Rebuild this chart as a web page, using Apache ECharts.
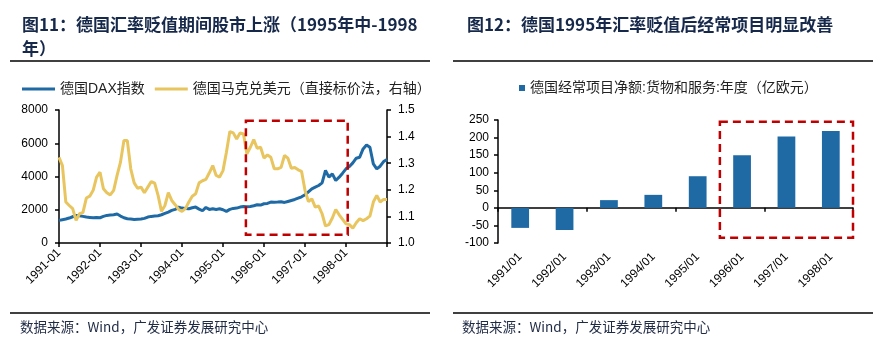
<!DOCTYPE html>
<html><head><meta charset="utf-8">
<script src="https://cdn.jsdelivr.net/npm/echarts@6.0.0/dist/echarts.min.js"></script>
<style>html,body{margin:0;padding:0;background:#fff}#c{width:887px;height:359px}</style>
</head><body><div id="c"></div>
<script>
// ---- data ----
const monthCats = [];
for (let y = 1991; y <= 1999; y++) for (let m = 1; m <= 12; m++) {
  if (y === 1999 && m > 1) break;
  monthCats.push(y + '-' + String(m).padStart(2, '0'));
}
const daxValues = [1360,1400,1440,1500,1580,1660,1640,1600,1560,1540,1520,1540,
  1520,1600,1660,1680,1700,1740,1620,1520,1460,1440,1420,1430,
  1440,1480,1560,1600,1620,1640,1700,1780,1860,1960,2020,2160,
  2100,2080,2060,2120,2160,2040,1940,2140,2020,2060,2020,2060,
  2000,1900,2020,2080,2100,2160,2200,2180,2200,2240,2300,2280,
  2360,2380,2460,2450,2460,2480,2440,2500,2560,2620,2700,2780,
  2900,3080,3260,3360,3460,3620,4360,3960,4160,3760,3960,4200,
  4460,4600,4820,5100,5160,5660,5900,5760,4760,4460,4620,4900,5020];
const demValues = [1.322,1.291,1.154,1.141,1.129,1.085,1.110,1.114,1.169,1.176,1.198,1.248,
  1.266,1.204,1.189,1.181,1.198,1.254,1.304,1.385,1.385,1.279,1.226,1.206,
  1.210,1.189,1.210,1.231,1.225,1.179,1.119,1.141,1.189,1.160,1.144,1.126,
  1.119,1.129,1.154,1.176,1.185,1.226,1.234,1.239,1.264,1.291,1.254,1.248,
  1.272,1.341,1.419,1.414,1.391,1.414,1.410,1.335,1.360,1.389,1.356,1.360,
  1.319,1.331,1.322,1.279,1.279,1.284,1.329,1.319,1.281,1.284,1.275,1.269,
  1.198,1.156,1.166,1.135,1.139,1.110,1.064,1.069,1.094,1.126,1.106,1.089,
  1.072,1.069,1.056,1.076,1.091,1.084,1.091,1.101,1.154,1.179,1.154,1.164,1.164];
const barCats = ['1991/01','1992/01','1993/01','1994/01','1995/01','1996/01','1997/01','1998/01'];
const barValues = [-57, -63, 22, 37, 90, 150, 203, 219];
const leftTicks = {min: 0, max: 8000, interval: 2000};
const rightTicks = {min: 1.0, max: 1.5, interval: 0.1};
const barTicks = {min: -100, max: 250, interval: 50};
// highlighted periods (data units)
const lineBox = {x0: 54.7, x1: 84.5, y0: 7360, y1: 500};
const barBox = {x0: 4.5, x1: 7.5, y0: 245, y1: -85};

const FONT = "'Liberation Sans','Noto Sans CJK SC',sans-serif";
const CJK = "'Noto Sans CJK SC','Liberation Sans',sans-serif";
const BLUE = '#1f6aa5', YELLOW = '#e8c55e', RED = '#c00000';
const chart = echarts.init(document.getElementById('c'), null, {renderer: 'canvas'});
const axisLine = {show: true, onZero: false, lineStyle: {color: '#000', width: 1.5}};
const lab = {color: '#000', fontSize: 12, fontFamily: FONT};

chart.setOption({
  animation: false,
  title: [
    {text: '图11：德国汇率贬值期间股市上涨（1995年中-1998\n年）', left: 17, top: 8,
     textStyle: {fontSize: 17, fontWeight: 'bold', color: '#17294a', fontFamily: CJK, lineHeight: 24}},
    {text: '图12：德国1995年汇率贬值后经常项目明显改善', left: 462, top: 8,
     textStyle: {fontSize: 17, fontWeight: 'bold', color: '#17294a', fontFamily: CJK, lineHeight: 24}}
  ],
  legend: [
    {data: [{name: '德国DAX指数', icon: 'rect'}, {name: '德国马克兑美元（直接标价法，右轴）', icon: 'rect'}],
     left: 22, top: 82, padding: 0,
     itemWidth: 33, itemHeight: 3, itemGap: 10,
     textStyle: {fontSize: 14, color: '#222', fontFamily: FONT}},
    {data: ['德国经常项目净额:货物和服务:年度（亿欧元）'], left: 519, top: 81, padding: 0,
     icon: 'rect', itemWidth: 6, itemHeight: 6,
     textStyle: {fontSize: 14, color: '#222', fontFamily: FONT}}
  ],
  grid: [
    {left: 59, top: 110, width: 328, height: 133, containLabel: false},
    {left: 498, top: 120, width: 355, height: 123, containLabel: false}
  ],
  xAxis: [
    {type: 'category', gridIndex: 0, data: monthCats, boundaryGap: false, axisLine,
     axisTick: {show: true, interval: 11, length: 4, lineStyle: {color: '#000', width: 1.5}},
     axisLabel: Object.assign({interval: 11, rotate: 45, margin: 8,
       formatter: v => v.startsWith('1999') ? '' : v}, lab),
     splitLine: {show: false}},
    {type: 'category', gridIndex: 1, data: barCats, boundaryGap: true,
     axisLine: {show: true, onZero: true, lineStyle: {color: '#000', width: 1.5}},
     axisTick: {show: true, length: 4, lineStyle: {color: '#000', width: 1.5}},
     axisLabel: {show: false}, splitLine: {show: false}},
    {type: 'category', gridIndex: 1, data: barCats, position: 'bottom', boundaryGap: true,
     axisLine: {show: false, onZero: false}, axisTick: {show: false},
     axisLabel: Object.assign({rotate: 45, margin: 12, interval: 0}, lab), splitLine: {show: false}}
  ],
  yAxis: [
    {type: 'value', gridIndex: 0, min: leftTicks.min, max: leftTicks.max, interval: leftTicks.interval,
     axisLine, axisTick: {show: true, length: 4, lineStyle: {color: '#000', width: 1.5}},
     axisLabel: Object.assign({margin: 11, formatter: v => String(v)}, lab), splitLine: {show: false}},
    {type: 'value', gridIndex: 0, position: 'right', min: rightTicks.min, max: rightTicks.max, interval: rightTicks.interval,
     axisLine, axisTick: {show: true, length: 4, lineStyle: {color: '#000', width: 1.5}},
     axisLabel: Object.assign({margin: 11, formatter: v => v.toFixed(1)}, lab), splitLine: {show: false}},
    {type: 'value', gridIndex: 1, min: barTicks.min, max: barTicks.max, interval: barTicks.interval,
     axisLine, axisTick: {show: true, length: 4, lineStyle: {color: '#000', width: 1.5}},
     axisLabel: Object.assign({margin: 9, formatter: v => String(v)}, lab), splitLine: {show: false}}
  ],
  series: [
    {name: '德国DAX指数', type: 'line', xAxisIndex: 0, yAxisIndex: 0, data: daxValues,
     symbol: 'none', lineStyle: {color: BLUE, width: 3}, itemStyle: {color: BLUE}},
    {name: '德国马克兑美元（直接标价法，右轴）', type: 'line', xAxisIndex: 0, yAxisIndex: 1, data: demValues,
     symbol: 'none', lineStyle: {color: YELLOW, width: 3}, itemStyle: {color: YELLOW}},
    {name: '德国经常项目净额:货物和服务:年度（亿欧元）', type: 'bar', xAxisIndex: 1, yAxisIndex: 2,
     data: barValues, barWidth: '40%', itemStyle: {color: BLUE}}
  ]
});

function boxRect(xAxisIndex, yAxisIndex, box) {
  const p0 = chart.convertToPixel({xAxisIndex}, 0);
  const p1 = chart.convertToPixel({xAxisIndex}, 1);
  const step = p1 - p0;
  const xa = p0 + box.x0 * step, xb = p0 + box.x1 * step;
  const ya = chart.convertToPixel({yAxisIndex}, box.y0);
  const yb = chart.convertToPixel({yAxisIndex}, box.y1);
  return {type: 'rect', z: 100, silent: true,
    shape: {x: xa, y: ya, width: xb - xa, height: yb - ya},
    style: {fill: 'none', stroke: RED, lineWidth: 2.5, lineDash: [8, 5]}};
}
function hline(x1, x2, y) {
  return {type: 'line', silent: true, shape: {x1, y1: y, x2, y2: y},
    style: {stroke: '#000', lineWidth: 1.5}};
}
function src(x) {
  return {type: 'text', silent: true, x, y: 327,
    style: {text: '数据来源：Wind，广发证券发展研究中心', font: '13.5px ' + CJK, fill: '#1f2a44',
      textVerticalAlign: 'middle'}};
}
chart.setOption({graphic: [
  boxRect(0, 0, lineBox), boxRect(1, 2, barBox),
  hline(10, 430, 61), hline(453, 873, 61), hline(10, 430, 313), hline(453, 873, 313),
  src(20), src(462)
]});
</script></body></html>
